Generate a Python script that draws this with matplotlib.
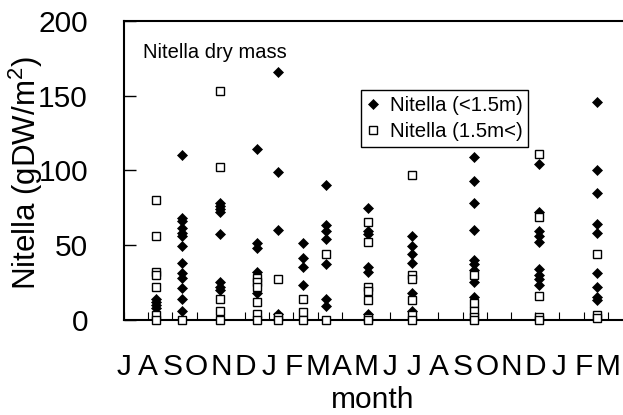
import matplotlib
matplotlib.use("Agg")
import matplotlib.pyplot as plt
import numpy as np

plt.rcParams['font.family'] = ['Liberation Sans', 'DejaVu Sans']
plt.rcParams['mathtext.fontset'] = 'custom'
plt.rcParams['mathtext.rm'] = 'Liberation Sans'
plt.rcParams['mathtext.it'] = 'Liberation Sans:italic'

# sampling dates, in months counted from the start of July
sample_month = [1.31, 2.38, 3.97, 5.48, 6.38, 7.38, 8.35, 10.1, 11.89, 14.48, 17.15, 19.55]

# Nitella dry mass (gDW/m2), depth < 1.5 m, one list per sampling date
shallow = [
    [14, 12, 10, 8],
    [110, 68, 66, 61, 58, 56, 49, 38, 31, 28, 21, 14, 6],
    [78, 76, 74, 72, 57, 25, 22, 20],
    [114, 51, 48, 32, 18],
    [166, 99, 60, 4],
    [51, 41, 35, 23],
    [90, 63, 59, 54, 37, 14, 9],
    [75, 59, 57, 35, 32, 4],
    [56, 49, 44, 38, 18, 6],
    [109, 93, 78, 60, 40, 37, 33, 25, 15],
    [104, 72, 59, 56, 52, 34, 30, 27, 23],
    [146, 100, 85, 64, 58, 31, 22, 15, 13],
]

# depth > 1.5 m
deep = [
    [80, 56, 32, 30, 22, 3, 0],
    [0],
    [153, 102, 14, 6, 0],
    [28, 25, 22, 12, 4, 0],
    [27, 2, 0],
    [14, 5, 0],
    [44, 0],
    [65, 52, 22, 19, 13, 1, 0],
    [97, 30, 27, 13, 3, 0],
    [30, 11, 6, 2, 0],
    [111, 69, 16, 2, 0],
    [44, 3, 1],
]

month_labels = list("JASONDJFMAMJJASONDJFM")

fig = plt.figure(figsize=(6.23, 4.15), dpi=100)
ax = fig.add_axes([124 / 623, 95.5 / 415, 508 / 623, 298.5 / 415])

xs_sh = [m for m, vals in zip(sample_month, shallow) for _ in vals]
ys_sh = [v for vals in shallow for v in vals]
xs_dp = [m for m, vals in zip(sample_month, deep) for _ in vals]
ys_dp = [v for vals in deep for v in vals]

ax.plot(xs_sh, ys_sh, 'D', color='black', ms=4.8, mew=0.5, ls='none',
        clip_on=False, zorder=3, label='Nitella (<1.5m)')
ax.plot(xs_dp, ys_dp, 's', mfc='white', mec='black', ms=5.7, mew=1.0, ls='none',
        clip_on=False, zorder=4, label='Nitella (1.5m<)')

ax.set_xlim(0, 21)
ax.set_ylim(0, 200)
ax.set_yticks([0, 50, 100, 150, 200])
ax.set_xticks(np.arange(len(month_labels)))
ax.set_xticklabels(month_labels)

ax.tick_params(axis='y', direction='in', length=8.5, width=1.0, labelsize=21.5, pad=26)
ax.tick_params(axis='x', direction='in', length=5.5, width=0.8, labelsize=21.5, pad=24)
for s in ax.spines.values():
    s.set_linewidth(1.5)

ax.set_ylabel('Nitella (gDW/m$^2$)', fontsize=22.5)
ax.yaxis.set_label_coords(-0.155, 0.49)
ax.set_xlabel('month', fontsize=21.5)
ax.xaxis.set_label_coords(0.49, -0.222)

ax.text(143 / 623, 1 - 52 / 415, 'Nitella dry mass', transform=fig.transFigure,
        fontsize=14.5, ha='left', va='center')

leg = ax.legend(loc='upper left', bbox_to_anchor=(361 / 623, 1 - 90 / 415),
                bbox_transform=fig.transFigure, fontsize=14.7, frameon=True,
                fancybox=False, edgecolor='black', framealpha=1,
                handlelength=0.6, handletextpad=0.5, borderpad=0.3,
                labelspacing=0.35, borderaxespad=0)
leg.get_frame().set_linewidth(1.0)

fig.savefig('out.png', dpi=100)
